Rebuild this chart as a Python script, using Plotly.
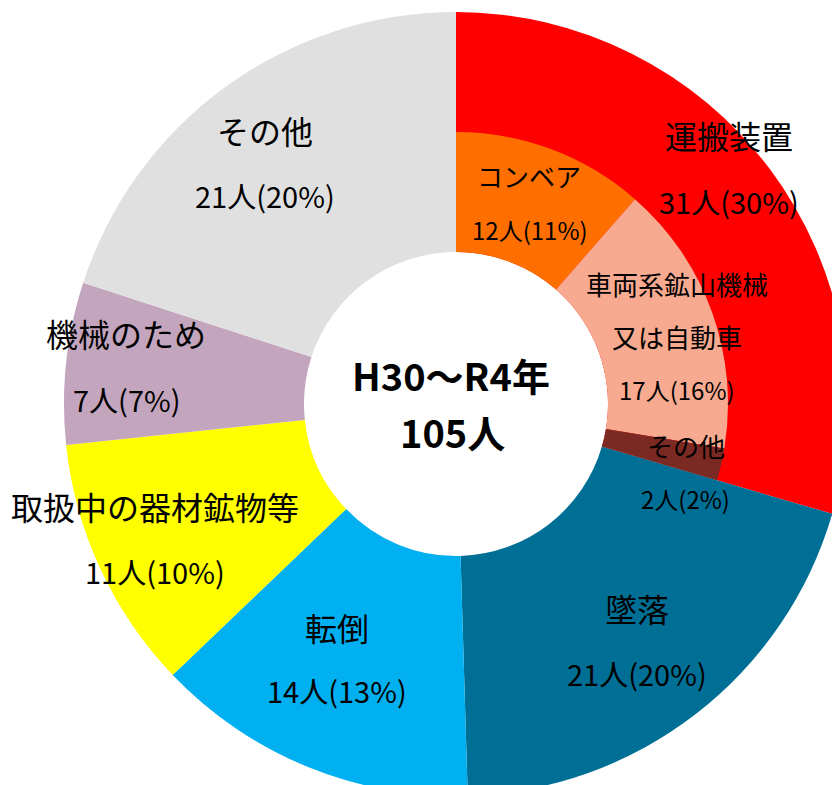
import plotly.graph_objects as go

# ---- data ----
outer_labels = ["運搬装置", "墜落", "転倒", "取扱中の器材鉱物等", "機械のため", "その他"]
outer_values = [31, 21, 14, 11, 7, 21]
outer_pct = [30, 20, 13, 10, 7, 20]

inner_labels = ["コンベア", "車両系鉱山機械又は自動車", "その他"]
inner_values = [12, 17, 2]
inner_pct = [11, 16, 2]

total_label = "H30～R4年"
total_value = 105

# ---- styles ----
outer_colors = ["#FF0000", "#006F96", "#00B0F0", "#FFFF00", "#C4A5BE", "#E0E0E0"]
inner_colors = ["#FF6F00", "#F7AA8F", "#7B2923"]
FONT = "Noto Sans CJK JP"
W, H = 840, 792
OFF = 8  # page body margin

# geometry (pixels, page coordinates)
cx, cy, R_out, R_in, R_hole = 456 - OFF, 404 - OFF, 392, 272, 152


def dom(r):
    return dict(x=[max(0, (cx - r) / W), min(1, (cx + r) / W)],
                y=[max(0, (H - cy - r) / H), min(1, (H - cy + r) / H)])


fig = go.Figure()
fig.add_trace(go.Pie(
    labels=outer_labels, values=outer_values, sort=False, direction="clockwise",
    rotation=0, hole=R_hole / R_out, marker=dict(colors=outer_colors, line=dict(width=0)),
    textinfo="none", hoverinfo="label+value", domain=dom(R_out), showlegend=False,
))
rest = sum(outer_values) - sum(inner_values)
fig.add_trace(go.Pie(
    labels=inner_labels + [""], values=inner_values + [rest], sort=False,
    direction="clockwise", rotation=0, hole=R_hole / R_in,
    marker=dict(colors=inner_colors + ["rgba(0,0,0,0)"], line=dict(width=0)),
    textinfo="none", hoverinfo="skip", domain=dom(R_in), showlegend=False,
))

# label positions (pixel centres, name line / value line) in reference coordinates
outer_pos = [((729, 135), (729, 201)), ((637, 608), (637, 673)), ((337, 627), (337, 690)),
             ((155, 506), (155, 571)), ((126, 333), (127, 399)), ((265, 130), (265, 195))]
inner_name_lines = [["コンベア"], ["車両系鉱山機械", "又は自動車"], ["その他"]]
inner_pos = [[(529, 175), (530, 230)], [(677, 283), (677, 336), (677, 389)],
             [(686, 445), (685, 498)]]

ann = []


def add(text, x, y, size, bold=False):
    ann.append(dict(text=f"<b>{text}</b>" if bold else text, x=(x - OFF) / W,
                    y=1 - (y - OFF) / H, xref="paper", yref="paper", showarrow=False,
                    xanchor="center", yanchor="middle",
                    font=dict(family=FONT, size=size, color="black")))


for lab, v, p, pos in zip(outer_labels, outer_values, outer_pct, outer_pos):
    add(lab, *pos[0], 32)
    add(f"{v}人({p}%)", *pos[1], 29)

for lines, v, p, pos in zip(inner_name_lines, inner_values, inner_pct, inner_pos):
    names = [(t, 26) for t in lines] + [(f"{v}人({p}%)", 24)]
    for (t, s), (x, y) in zip(names, pos):
        add(t, x, y, s)

add(total_label, 451, 374, 38, bold=True)
add(f"{total_value}人", 452, 431, 38, bold=True)

fig.update_layout(width=W, height=H, margin=dict(l=0, r=0, t=0, b=0),
                  paper_bgcolor="white", plot_bgcolor="white", annotations=ann)
fig.write_html("out.html")
